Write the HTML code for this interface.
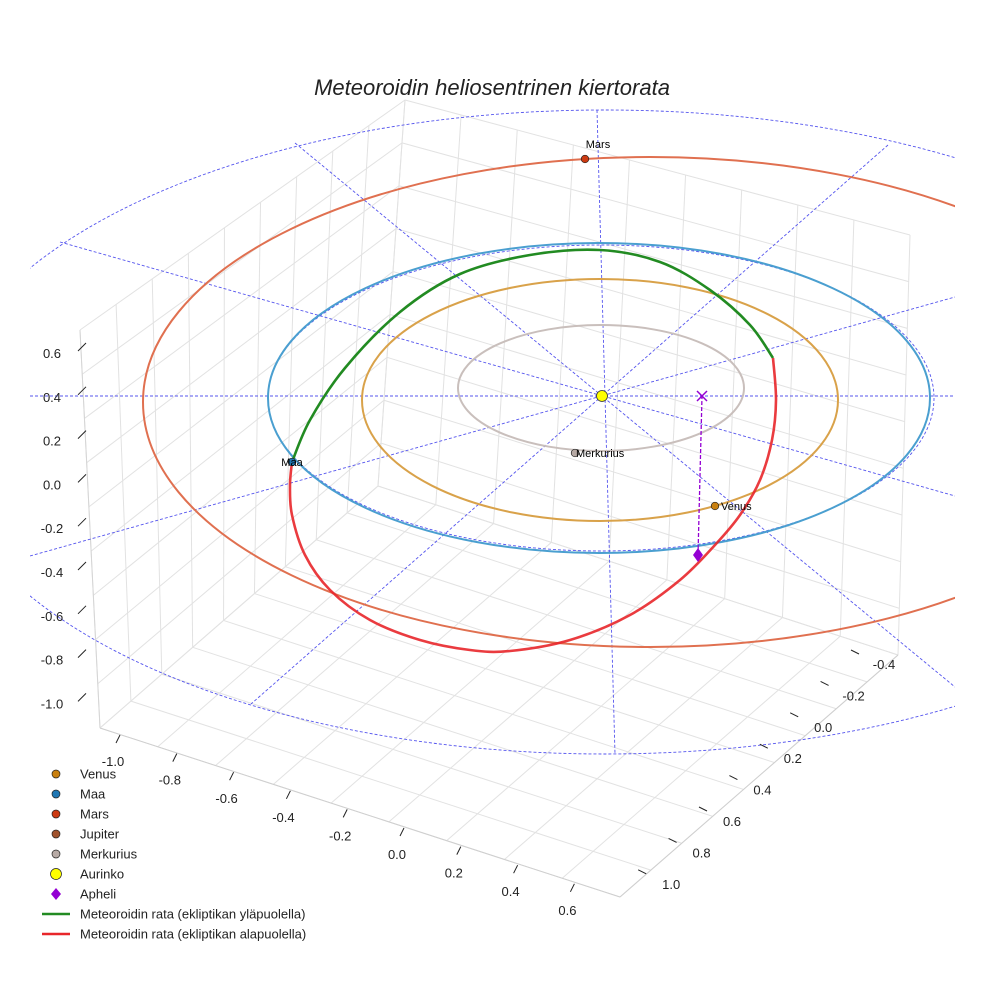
<!DOCTYPE html>
<html><head><meta charset="utf-8"><style>
body{margin:0;background:#fff}
svg{display:block;font-family:"Liberation Sans",sans-serif}
</style></head><body>
<svg id="c" width="984" height="984" viewBox="0 0 984 984">
<defs><clipPath id="clp"><rect x="30" y="0" width="925" height="984"/></clipPath></defs>
<text x="492" y="95" text-anchor="middle" font-size="22" font-style="italic" fill="#222">Meteoroidin heliosentrinen kiertorata</text>
<g id="box"></g>
<g id="guides"></g>
<g id="orbits" clip-path="url(#clp)"></g>
<g id="marks"></g>
<g id="ticks"></g>
<g id="legend"></g>
</svg>
<script>
const NS='http://www.w3.org/2000/svg';
// ---- data ----
const zTicks=['0.6','0.4','0.2','0.0','-0.2','-0.4','-0.6','-0.8','-1.0'];
const xTicks=['-1.0','-0.8','-0.6','-0.4','-0.2','0.0','0.2','0.4','0.6'];
const yTicks=['-0.4','-0.2','0.0','0.2','0.4','0.6','0.8','1.0'];
const planetNames=['Merkurius','Venus','Maa','Mars'];
const orbitCx=[601,600,599,650];
const orbitCy=[388,400,398,402];
const orbitRx=[143,238,331,507];
const orbitRy=[63,121,155,245];
const orbitColors=['#c9bfbc','#d9a24a','#4a9fd0','#e07050'];
const planetX=[575,715,292,585];
const planetY=[453,506,462,159];
const planetColors=['#b7aaa5','#c9800f','#1f77b4','#cc3a12'];
const meteorUpperX=[292,310,345,400,460,530,600,660,710,750,773];
const meteorUpperY=[462,420,368,312,274,255,250,262,290,325,358];
const meteorLowerX=[773,776,772,760,740,715,680,630,570,510,470,420,370,330,305,292,290,292];
const meteorLowerY=[358,400,440,480,515,545,580,615,640,651,650,640,620,590,555,515,485,462];
const sun=[602,396];
const aphelion=[698,555];
const aphelionProj=[702,396];
const legendLabels=['Venus','Maa','Mars','Jupiter','Merkurius','Aurinko','Apheli','Meteoroidin rata (ekliptikan yläpuolella)','Meteoroidin rata (ekliptikan alapuolella)'];
const legendColors=['#c9800f','#1f77b4','#cc3a12','#a0522d','#b7aaa5','#ffff00','#9400d3','#228b22','#e8262a'];

function mk(t,a,p){const e=document.createElementNS(NS,t);for(const k in a)e.setAttribute(k,a[k]);(p||document.getElementById('c')).appendChild(e);return e;}
const lerp=(a,b,t)=>[a[0]+(b[0]-a[0])*t,a[1]+(b[1]-a[1])*t];
// box
const box=document.getElementById('box');
const L=[100,728],F=[620,897],R=[898,655],B=[378,486],Bt=[405,100],Lt=[80,330],Rt=[910,235];
function gl(a,b,c){const e=mk('line',{x1:a[0],y1:a[1],x2:b[0],y2:b[1],stroke:c||'#e2e2e2','stroke-width':1},box);}
for(let i=0;i<=9;i++){const t=i/9;
 gl(lerp(L,B,t),lerp(F,R,t)); gl(lerp(L,F,t),lerp(B,R,t));
 gl(lerp(L,B,t),lerp(Lt,Bt,t)); gl(lerp(B,R,t),lerp(Bt,Rt,t));
 gl(lerp(L,Lt,t),lerp(B,Bt,t)); gl(lerp(B,Bt,t),lerp(R,Rt,t));}
gl(L,F,'#cfcfcf');gl(F,R,'#cfcfcf');gl(L,Lt,'#d5d5d5');
// guides
const gd=document.getElementById('guides');
const gg=mk('g',{'clip-path':'url(#clp)',stroke:'#5555ee','stroke-width':0.9,'stroke-dasharray':'3,2',fill:'none'},gd);
let e=mk('ellipse',{cx:605,cy:432,rx:668,ry:322},gg);
e=mk('ellipse',{cx:601,cy:398,rx:333,ry:153},gg);
const radialEnds=[[30,396,955,396],[597,110,615,754],[295,143,955,687],[888,145,251,704],[60,242,955,496],[30,556,955,297]];
radialEnds.forEach(r=>{const l=mk('line',{x1:r[0],y1:r[1],x2:r[2],y2:r[3]},gg);});
// orbits
const og=document.getElementById('orbits');
for(let i=0;i<planetNames.length;i++){const o=mk('ellipse',{cx:orbitCx[i],cy:orbitCy[i],rx:orbitRx[i],ry:orbitRy[i],fill:'none',stroke:orbitColors[i],'stroke-width':2},og);
 }
function smooth(xs,ys){let d='M'+xs[0]+','+ys[0];for(let i=0;i<xs.length-1;i++){const p0=[xs[Math.max(i-1,0)],ys[Math.max(i-1,0)]],p1=[xs[i],ys[i]],p2=[xs[i+1],ys[i+1]],p3=[xs[Math.min(i+2,xs.length-1)],ys[Math.min(i+2,xs.length-1)]];
 d+=' C'+(p1[0]+(p2[0]-p0[0])/6)+','+(p1[1]+(p2[1]-p0[1])/6)+' '+(p2[0]-(p3[0]-p1[0])/6)+','+(p2[1]-(p3[1]-p1[1])/6)+' '+p2[0]+','+p2[1];}return d;}
e=mk('path',{d:smooth(meteorUpperX,meteorUpperY),fill:'none',stroke:'#228b22','stroke-width':2.6},og);
e=mk('path',{d:smooth(meteorLowerX,meteorLowerY),fill:'none',stroke:'#e8262a','stroke-width':2.6,'stroke-opacity':0.9},og);
// markers
const mg=document.getElementById('marks');
e=mk('line',{x1:aphelion[0],y1:aphelion[1],x2:aphelionProj[0],y2:aphelionProj[1],stroke:'#9400d3','stroke-width':1.3,'stroke-dasharray':'4,2'},mg);
e=mk('path',{d:`M${aphelionProj[0]-5},${aphelionProj[1]-5}L${aphelionProj[0]+5},${aphelionProj[1]+5}M${aphelionProj[0]-5},${aphelionProj[1]+5}L${aphelionProj[0]+5},${aphelionProj[1]-5}`,stroke:'#9400d3','stroke-width':1.5},mg);
e=mk('polygon',{points:`${aphelion[0]},${aphelion[1]-7} ${aphelion[0]+5},${aphelion[1]} ${aphelion[0]},${aphelion[1]+7} ${aphelion[0]-5},${aphelion[1]}`,fill:'#9400d3'},mg);
e=mk('circle',{cx:sun[0],cy:sun[1],r:5.5,fill:'#ffff00',stroke:'#333','stroke-width':0.8},mg);
for(let i=0;i<planetNames.length;i++){
 const c=mk('circle',{cx:planetX[i],cy:planetY[i],r:3.8,fill:planetColors[i],stroke:'#222','stroke-width':0.7},mg);
 
 let tx=planetX[i]+1,ty=planetY[i]+4,anc='start';
 if(planetNames[i]==='Mars'){tx=planetX[i]+13;ty=planetY[i]-11;anc='middle';}
 if(planetNames[i]==='Maa'){tx=planetX[i];anc='middle';}
 if(planetNames[i]==='Venus'){tx=planetX[i]+6;}
 const t=mk('text',{x:tx,y:ty,'font-size':11,fill:'#000','text-anchor':anc},mg);t.textContent=planetNames[i];
 }
// ticks
const tg=document.getElementById('ticks');
function tick(txt,x,y,tx1,ty1,tx2,ty2){const l=mk('line',{x1:tx1,y1:ty1,x2:tx2,y2:ty2,stroke:'#222','stroke-width':1},tg);
 const t=mk('text',{x:x,y:y,'font-size':13,fill:'#222','text-anchor':'middle'},tg);t.textContent=txt;}
zTicks.forEach((s,i)=>{const y=353+i*43.8;tick(s,52,y+5,78,y-2,86,y-10);});
xTicks.forEach((s,i)=>{const x=113+i*56.8,y=761+i*18.6;tick(s,x,y+5,x+7,y-26,x+3,y-18);});
yTicks.forEach((s,i)=>{const x=884-i*30.4,y=664+i*31.4;tick(s,x,y+5,x-25,y-10,x-33,y-14);});
// legend
const lg=document.getElementById('legend');
legendLabels.forEach((s,i)=>{const y=774+i*20;let m;
 if(i<6){m=mk('circle',{cx:56,cy:y,r:i===5?5.5:4,fill:legendColors[i],stroke:'#222','stroke-width':0.7},lg);}
 else if(i===6){m=mk('polygon',{points:`56,${y-6} 61,${y} 56,${y+6} 51,${y}`,fill:legendColors[i]},lg);}
 else{m=mk('line',{x1:42,y1:y,x2:70,y2:y,stroke:legendColors[i],'stroke-width':2.4},lg);}
 
 const t=mk('text',{x:80,y:y+4.5,'font-size':13,fill:'#222'},lg);t.textContent=s;
 });
</script>
</body></html>
